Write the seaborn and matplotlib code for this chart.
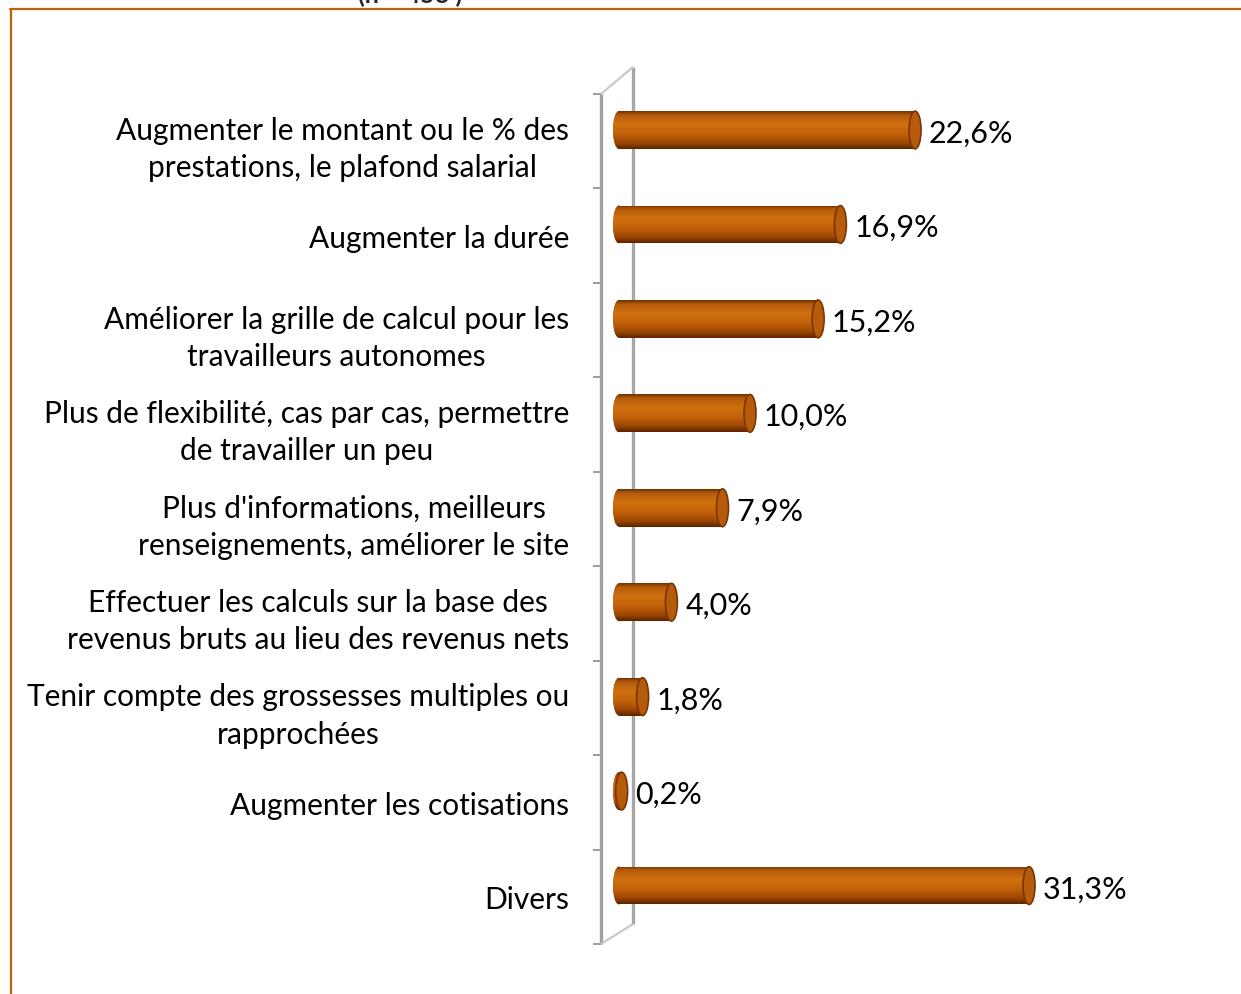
import numpy as np
import pandas as pd
import matplotlib
matplotlib.use("Agg")
import matplotlib.pyplot as plt
import seaborn as sns
from matplotlib.patches import Ellipse
from matplotlib.lines import Line2D
from matplotlib.colors import LinearSegmentedColormap

# Suggestions for improvement (share of responses)
categories = [
    "Augmenter le montant ou le % des\nprestations, le plafond salarial",
    "Augmenter la durée",
    "Améliorer la grille de calcul pour les\ntravailleurs autonomes",
    "Plus de flexibilité, cas par cas, permettre\nde travailler un peu",
    "Plus d'informations, meilleurs\nrenseignements, améliorer le site",
    "Effectuer les calculs sur la base des\nrevenus bruts au lieu des revenus nets",
    "Tenir compte des grossesses multiples ou\nrapprochées",
    "Augmenter les cotisations",
    "Divers",
]
values = [22.6, 16.9, 15.2, 10.0, 7.9, 4.0, 1.8, 0.2, 31.3]
value_labels = ["22,6%", "16,9%", "15,2%", "10,0%", "7,9%", "4,0%", "1,8%", "0,2%", "31,3%"]
subtitle = "(n = 453 )"

sns.set_theme(style="white")
FONT = ["Lato", "DejaVu Sans"]
plt.rcParams["font.family"] = FONT

W, H, DPI = 1241, 995, 100
fig = plt.figure(figsize=(W / DPI, H / DPI), dpi=DPI)
fig.patch.set_facecolor("white")

# axes placement (pixels)
ax_left, ax_right, ax_top, ax_bottom = 601, 1200, 95, 945
ax = fig.add_axes([ax_left / W, 1 - ax_bottom / H,
                   (ax_right - ax_left) / W, (ax_bottom - ax_top) / H])

df = pd.DataFrame({"cat": categories, "val": values})
sns.barplot(data=df, x="val", y="cat", orient="h", color="#C0600A",
            width=0.40, ax=ax, saturation=1)

# scale: 13.1 px per percent, zero at x = 619 px
px_per_unit = 13.1
zero_px = 619
xmin = (ax_left - zero_px) / px_per_unit
xmax = (ax_right - zero_px) / px_per_unit
slot = (ax_bottom - ax_top) / 9.0
first_center = 131
ytop = (ax_top - first_center) / slot
ybot = (ax_bottom - first_center) / slot

# cylinder shading
grad = LinearSegmentedColormap.from_list(
    "cyl", [(0.0, "#6E3000"), (0.10, "#B35A0C"), (0.35, "#D0700F"),
            (0.60, "#C4620A"), (0.85, "#9A4504"), (1.0, "#5A2400")])
gimg = np.linspace(0, 1, 200).reshape(-1, 1)
cap_w = 12 / px_per_unit
for p in list(ax.patches):
    x0, y0 = p.get_x(), p.get_y()
    w, h = p.get_width(), p.get_height()
    yc = y0 + h / 2
    # left rounded end
    left = Ellipse((x0, yc), cap_w, h, facecolor="#A24C06", edgecolor="none", zorder=2)
    ax.add_patch(left)
    img = ax.imshow(gimg, cmap=grad, aspect="auto", extent=(x0, x0 + w, y0 + h, y0),
                    zorder=2.5, interpolation="bilinear")
    img.set_clip_path(p)
    p.set_facecolor("none")
    p.set_edgecolor("none")
    left_img = ax.imshow(gimg, cmap=grad, aspect="auto",
                         extent=(x0 - cap_w / 2, x0, y0 + h, y0),
                         zorder=2.4, interpolation="bilinear")
    left_img.set_clip_path(left)
    # right end cap
    cap = Ellipse((x0 + w, yc), cap_w, h, facecolor="#B65A0B",
                  edgecolor="#7A3502", linewidth=1.2, zorder=3)
    ax.add_patch(cap)

ax.set_xlim(xmin, xmax)
ax.set_ylim(ybot, ytop)

# value labels
for i, (v, lab) in enumerate(zip(values, value_labels)):
    ax.annotate(lab, xy=(v, i), xytext=(10, -2), textcoords="offset points",
                ha="left", va="center", fontsize=22, color="black", family=FONT)

# axis: category labels centered in each slot, ticks on slot boundaries
ax.set_xticks([])
ax.set_yticks([ytop + k for k in range(10)])
ax.set_yticklabels([])
ax.set_yticks([ytop + 0.5 + k for k in range(9)], minor=True)
ax.set_yticklabels(categories, minor=True, fontsize=21.5, family=FONT,
                   multialignment="center", color="black", linespacing=1.4)
ax.tick_params(axis="y", which="major", length=6, width=1.2, color="#8C8C8C",
               left=True, direction="out")
ax.tick_params(axis="y", which="minor", length=0, pad=23)
ax.tick_params(axis="x", length=0)
ax.set_xlabel("")
ax.set_ylabel("")
for s in ax.spines.values():
    s.set_visible(False)

# 3-D wall outline
wall_dx = (633 - ax_left) / (ax_right - ax_left)
wall_top = (ax_bottom - 68) / (ax_bottom - ax_top)
wall_bot = (ax_bottom - 925) / (ax_bottom - ax_top)
wall_kw = dict(transform=ax.transAxes, clip_on=False, solid_capstyle="butt")
ax.plot([0, 0], [0, 1], color="#A0A0A0", lw=2.4, zorder=1, **wall_kw)
ax.plot([wall_dx, wall_dx], [wall_bot, wall_top], color="#A6A6A6", lw=2.4, zorder=1, **wall_kw)
ax.plot([0, wall_dx], [1, wall_top], color="#C8C8C8", lw=1.6, zorder=1, **wall_kw)
ax.plot([0, wall_dx], [0, wall_bot], color="#C8C8C8", lw=1.6, zorder=1, **wall_kw)

# outer frame (top and left borders)
frame_c = "#C0600A"
fig.add_artist(Line2D([10 / W, 1.0], [1 - 10 / H, 1 - 10 / H],
                      transform=fig.transFigure, color=frame_c, lw=1.6))
fig.add_artist(Line2D([11 / W, 11 / W], [0, 1 - 10 / H],
                      transform=fig.transFigure, color=frame_c, lw=1.6))

# subtitle sitting against the top edge
fig.text(410 / W, 1 - 3 / H, subtitle, ha="center", va="baseline",
         fontsize=18, fontweight="bold", family=FONT)

fig.savefig("out.png", dpi=DPI, facecolor="white")
